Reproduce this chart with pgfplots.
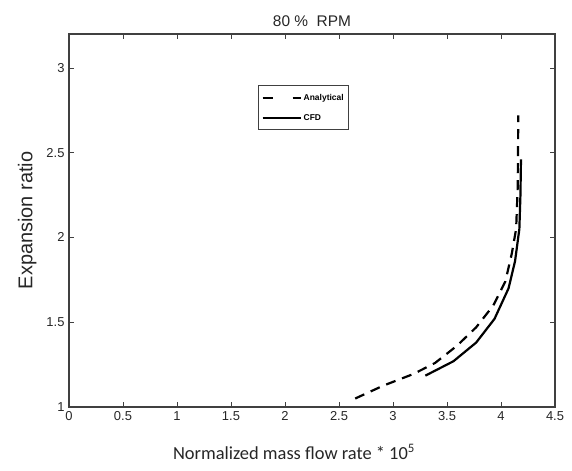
\documentclass[border=0pt]{standalone}
\usepackage{fontspec}
\setmainfont{Liberation Sans}
\newfontfamily\carlito{Carlito}
\usepackage{pgfplots}
\pgfplotsset{compat=1.18}
\begin{document}
\begin{tikzpicture}
\useasboundingbox (-69bp,-64bp) rectangle (503bp,407bp);
\begin{axis}[
  at={(0,0)}, anchor=south west,
  scale only axis, width=486bp, height=373bp,
  xmin=0, xmax=4.5, ymin=1, ymax=3.2,
  xtick={0,0.5,...,4.5}, ytick={1,1.5,...,3},
  tick align=inside, major tick length=5bp,
  tick style={black!75, line width=0.8pt},
  axis line style={black!75, line width=1.1pt},
  /pgf/number format/assume math mode=true,
  ticklabel style={font=\fontsize{13}{15}\selectfont, black!85},
  xticklabel style={yshift=-1bp},
  yticklabel style={xshift=-1bp},
  title={80 \%\ \ RPM},
  title style={font=\fontsize{15.5}{17}\selectfont, black!85, yshift=-2bp},
  xlabel={\carlito Normalized mass flow rate * 10\textsuperscript{5}},
  ylabel={Expansion ratio},
  xlabel style={font=\fontsize{18.5}{20}\selectfont, black!85, yshift=-17bp, xshift=-18bp},
  ylabel style={font=\fontsize{20}{22}\selectfont, black!85, yshift=3bp},
  legend style={at={(0.389,0.862)}, anchor=north west, draw=black!75, line width=0.9pt,
    font=\fontsize{8.5}{10}\selectfont\bfseries, inner xsep=3bp, inner ysep=6bp, row sep=9bp},
  legend cell align=left,
]
\addplot[black, line width=2.2bp, dash pattern=on 10bp off 7bp,
  legend image code/.code={\draw[black, line width=2.2bp, dash pattern=on 10bp off 20bp] (0bp,0bp) -- (38bp,0bp);}] coordinates {
(2.65,1.05) (2.91,1.126) (3.19,1.195) (3.39,1.26) (3.59,1.36) (3.77,1.47)
(3.93,1.60) (4.04,1.74) (4.10,1.905) (4.14,2.05) (4.155,2.3) (4.16,2.72)
};
\addlegendentry{Analytical}
\addplot[black, line width=2.2bp,
  legend image code/.code={\draw[black, line width=2.2bp] (0bp,0bp) -- (38bp,0bp);}] coordinates {
(3.30,1.185) (3.56,1.27) (3.77,1.38) (3.94,1.52) (4.07,1.70) (4.13,1.86)
(4.17,2.05) (4.18,2.25) (4.185,2.46)
};
\addlegendentry{CFD}
\end{axis}
\end{tikzpicture}
\end{document}
